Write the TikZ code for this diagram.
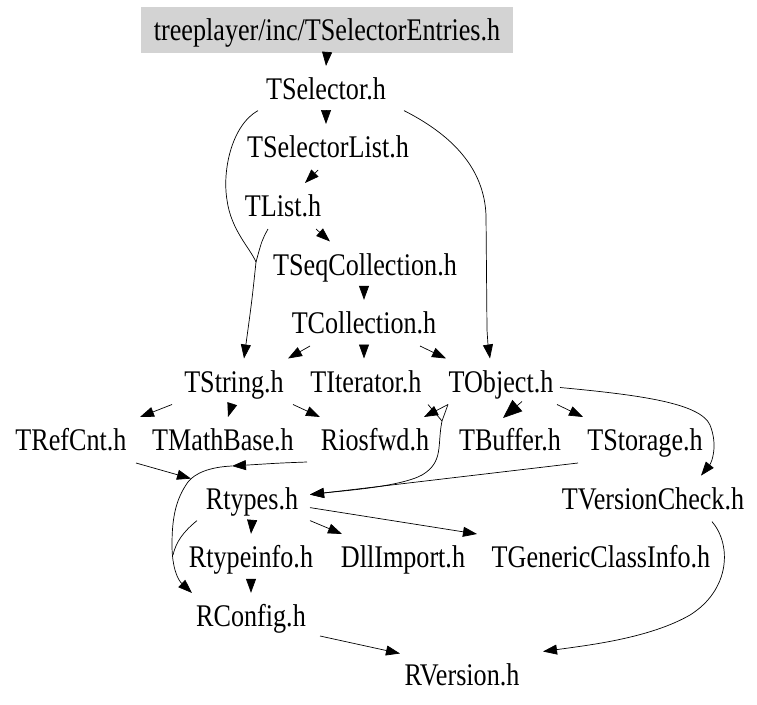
\documentclass[tikz,border=0pt]{standalone}
\usepackage{fontspec}
\newfontfamily\gfont{Liberation Serif}[FakeStretch=0.83]
\usetikzlibrary{arrows.meta,calc}
\newcommand\gf{\gfont\fontsize{31.5}{36}\selectfont}
\tikzset{
  nd/.style={inner xsep=9pt, inner ysep=0pt, minimum height=46pt, text height=21pt, text depth=0pt, font=\gf},
  topbox/.style={nd, fill={rgb,255:red,211;green,211;blue,211}, minimum width=372pt},
  ed/.style={line width=0.7pt, -{Triangle[length=14pt,width=10pt]}},
  ln/.style={line width=0.7pt},
  biged/.style={line width=0.7pt, -{Triangle[length=19pt,width=15pt]}}
}
\begin{document}
\begin{tikzpicture}[x=1pt,y=-1pt]
\useasboundingbox (0,0) rectangle (757,704);
\node[topbox] (top) at (327,30) {treeplayer/inc/TSelectorEntries.h};
\node[nd] (sel) at (326,88.6) {TSelector.h};
\node[nd] (sellist) at (328,147) {TSelectorList.h};
\node[nd] (tlist) at (283,206) {TList.h};
\node[nd] (seq) at (365,264.5) {TSeqCollection.h};
\node[nd] (coll) at (364,323) {TCollection.h};
\node[nd] (str) at (234,381.5) {TString.h};
\node[nd] (iter) at (366,381.5) {TIterator.h};
\node[nd] (obj) at (501,381.5) {TObject.h};
\node[nd] (refcnt) at (71,440) {TRefCnt.h};
\node[nd] (math) at (223,440) {TMathBase.h};
\node[nd] (rios) at (375,440) {Riosfwd.h};
\node[nd] (buf) at (510,440) {TBuffer.h};
\node[nd] (stor) at (645,440) {TStorage.h};
\node[nd] (rtypes) at (252,498.6) {Rtypes.h};
\node[nd] (vcheck) at (653,498.6) {TVersionCheck.h};
\node[nd] (rtinfo) at (251,557) {Rtypeinfo.h};
\node[nd] (dll) at (403,557) {DllImport.h};
\node[nd] (gci) at (601,557) {TGenericClassInfo.h};
\node[nd] (rconf) at (251,616) {RConfig.h};
\node[nd] (rver) at (462,674.5) {RVersion.h};
\coordinate (m1) at (256,262);
\coordinate (m2) at (442,421);
\coordinate (m3) at (232,466);
% top part
\draw[ed] (top.south) -- ($(sel.north)+(0,0.5)$);
\draw[ed] (sel.south) -- ($(sellist)+(-2,-23)$);
\draw[ed] ($(sellist)+(-10,23)$) -- ($(tlist)+(22,-23)$);
\draw[ed] ($(tlist)+(33,23)$) -- ($(seq)+(-35,-23)$);
\draw[ed] ($(seq)+(-1,23)$) -- (coll.north);
\draw[ed] ($(coll)+(-54,23)$) -- ($(str)+(54,-23)$);
\draw[ed] (coll.south) -- ($(iter)+(-2,-23)$);
\draw[ed] ($(coll)+(56,23)$) -- ($(obj)+(-55,-23)$);
\draw[ed] ($(sel)+(78,22)$) .. controls (452,135) and (484,168) .. (486,215) -- (487,330) .. controls (488,345) .. ($(obj)+(-11,-23)$);
\draw[ln] ($(sel)+(-68,22)$) .. controls (232,125) and (222,170) .. (227,200) .. controls (231,230) and (250,248) .. (m1);
\draw[ln] ($(tlist)+(-15,23)$) .. controls (262,240) .. (m1);
\draw[ed] (m1) .. controls (252,300) .. ($(str)+(10,-23)$);
% TString
\draw[ed] ($(str)+(-62,23)$) -- ($(refcnt)+(69,-23)$);
\draw[ed] ($(str)+(-2,23)$) -- ($(math)+(5,-23)$);
\draw[ed] ($(str)+(59,23)$) -- ($(rios)+(-55,-23)$);
% TObject
\draw[ed] ($(obj)+(-53,23)$) -- ($(rios)+(49,-23)$);
\draw[ln] ($(iter)+(62,23)$) -- (m2);
\draw[ln] ($(obj)+(-53,23)$) -- (m2);
\draw[ed] (m2) .. controls (437,445) and (444,462) .. (422,475) .. controls (400,487) and (340,491) .. ($(rtypes)+(58,-4)$);
\draw[ed] ($(stor)+(-67,23)$) -- ($(rtypes)+(58,-4)$);
\draw[biged] ($(obj)+(21,20)$) -- ($(buf)+(-7,-22)$);
\draw[ed] ($(obj)+(56,23)$) -- ($(stor)+(-62,-23)$);
\draw[ed] ($(obj)+(59,6)$) .. controls (640,395) and (700,403) .. (710,425) .. controls (718,445) and (712,462) .. ($(vcheck)+(48,-23)$);
% lower part
\draw[ed] ($(refcnt)+(65,23)$) -- ($(rtypes)+(-61,-20)$);
\draw[ed] ($(rios)+(-68,22)$) .. controls (280,463) .. (m3);
\draw[ed] (m3) .. controls (210,467) and (195,473) .. (188,482) .. controls (175,500) and (172,520) .. (172,545) .. controls (172,568) and (178,580) .. ($(rconf)+(-59,-23)$);
\draw[ln] ($(rtypes)+(-55,22)$) .. controls (183,532) and (176,542) .. (173,555);
\draw[ed] (rtypes.south) -- (rtinfo.north);
\draw[ed] (rtinfo.south) -- (rconf.north);
\draw[ed] ($(rtypes)+(58,22)$) -- ($(dll)+(-61,-23)$);
\draw[ed] ($(rtypes)+(58,9)$) -- ($(gci)+(-124,-23)$);
\draw[ed] ($(rconf)+(69,20)$) -- ($(rver)+(-62,-21)$);
\draw[ed] ($(vcheck)+(59,23)$) .. controls (732,545) and (730,590) .. (690,615) .. controls (650,638) and (590,645) .. ($(rver)+(81,-23)$);
\end{tikzpicture}
\end{document}
